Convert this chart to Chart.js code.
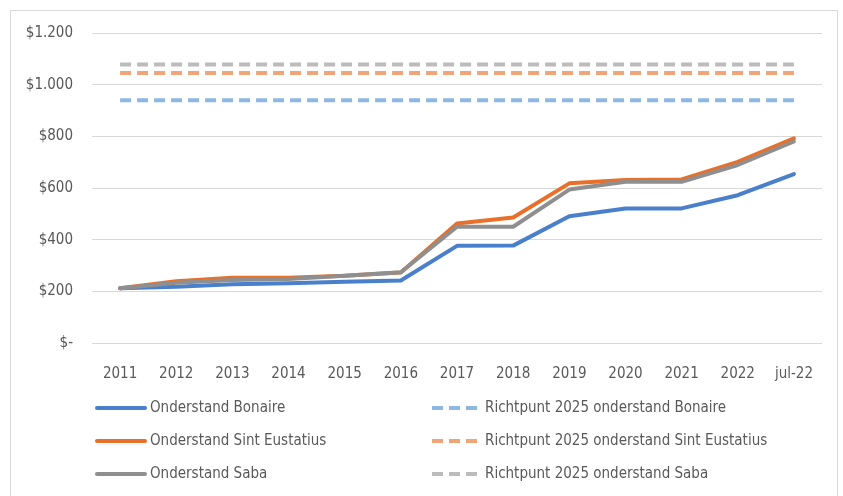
<!DOCTYPE html>
<html>
<head>
<meta charset="utf-8">
<script src="https://cdn.jsdelivr.net/npm/chart.js@4"></script>
<style>
  html, body { margin: 0; padding: 0; background: #fff; }
  #wrap { width: 843px; height: 496px; position: relative; }
</style>
</head>
<body>
<div id="wrap"><canvas id="chart"></canvas></div>
<script>
const years = ['2011', '2012', '2013', '2014', '2015', '2016', '2017', '2018', '2019', '2020', '2021', '2022', 'jul-22']

// onderstand per maand (USD)
const bonaire   = [212, 218, 227, 231, 237, 242, 376, 377, 491, 521, 521, 572, 654]
const eustatius = [212, 239, 253, 253, 260, 273, 463, 486, 618, 631, 633, 701, 792]
const saba      = [212, 233, 244, 248, 260, 274, 450, 450, 594, 624, 624, 689, 780]

// richtpunt 2025
const targetBonaire   = [940, 940, 940, 940, 940, 940, 940, 940, 940, 940, 940, 940, 940]
const targetEustatius = [1045, 1045, 1045, 1045, 1045, 1045, 1045, 1045, 1045, 1045, 1045, 1045, 1045]
const targetSaba      = [1078, 1078, 1078, 1078, 1078, 1078, 1078, 1078, 1078, 1078, 1078, 1078, 1078]

const FONT = "'Liberation Sans Narrow', 'DejaVu Sans Condensed', sans-serif"
const TEXT = '#595959'

function solid(label, data, color, order) {
  return { label, data, borderColor: color, backgroundColor: color, borderWidth: 4,
    pointRadius: 0, tension: 0, borderCapStyle: 'round', borderJoinStyle: 'round', order }
}
function dashed(label, data, color, order) {
  return { label, data, borderColor: color, backgroundColor: color, borderWidth: 4,
    pointRadius: 0, tension: 0, borderDash: [11, 6], order }
}

// legend in two columns like the Excel original
const legendSlots = [
  { ds: 0, x: 97,  y: 408 }, { ds: 3, x: 432, y: 408 },
  { ds: 1, x: 97,  y: 441 }, { ds: 4, x: 432, y: 441 },
  { ds: 2, x: 97,  y: 474 }, { ds: 5, x: 432, y: 474 }
]

const frameAndLegend = {
  id: 'frameAndLegend',
  beforeDraw(chart) {
    const ctx = chart.ctx
    ctx.save()
    ctx.strokeStyle = '#d9d9d9'
    ctx.lineWidth = 1
    ctx.strokeRect(10.5, 10.5, 827, 500)
    ctx.restore()
  },
  afterDraw(chart) {
    const ctx = chart.ctx
    ctx.save()
    ctx.font = '15px ' + FONT
    ctx.textBaseline = 'middle'
    legendSlots.forEach(s => {
      const d = chart.data.datasets[s.ds]
      ctx.strokeStyle = d.borderColor
      ctx.lineWidth = 4
      ctx.setLineDash(d.borderDash || [])
      ctx.lineCap = d.borderDash ? 'butt' : 'round'
      ctx.beginPath()
      ctx.moveTo(s.x, s.y)
      ctx.lineTo(s.x + 48, s.y)
      ctx.stroke()
      ctx.setLineDash([])
      ctx.fillStyle = TEXT
      ctx.fillText(d.label, s.x + 53, s.y)
    })
    ctx.restore()
  }
}

new Chart(document.getElementById('chart'), {
  type: 'line',
  data: {
    labels: years,
    datasets: [
      solid('Onderstand Bonaire', bonaire, '#4a7fcb', 3),
      solid('Onderstand Sint Eustatius', eustatius, '#e8702a', 2),
      solid('Onderstand Saba', saba, '#8f8f8f', 1),
      dashed('Richtpunt 2025 onderstand Bonaire', targetBonaire, '#8fb7e3', 4),
      dashed('Richtpunt 2025 onderstand Sint Eustatius', targetEustatius, '#f0a578', 5),
      dashed('Richtpunt 2025 onderstand Saba', targetSaba, '#bcbcbc', 6)
    ]
  },
  options: {
    responsive: true,
    maintainAspectRatio: false,
    animation: false,
    layout: { padding: { left: 10, right: 21, top: 33, bottom: 0 } },
    plugins: { legend: { display: false }, tooltip: { enabled: false } },
    scales: {
      x: {
        offset: true,
        grid: { display: false },
        border: { display: false },
        ticks: { color: TEXT, font: { family: FONT, size: 15 }, padding: 14, maxRotation: 0, autoSkip: false },
        afterFit(scale) { scale.height = 153 }
      },
      y: {
        min: 0,
        max: 1200,
        grid: { color: '#d9d9d9', lineWidth: 1, drawTicks: false },
        border: { display: false },
        ticks: {
          stepSize: 200,
          color: TEXT,
          font: { family: FONT, size: 15 },
          padding: 19,
          callback: v => v === 0 ? '$-' : '$' + v.toLocaleString('nl-NL')
        },
        afterFit(scale) { scale.width = 82 }
      }
    }
  },
  plugins: [frameAndLegend]
})
</script>
</body>
</html>
